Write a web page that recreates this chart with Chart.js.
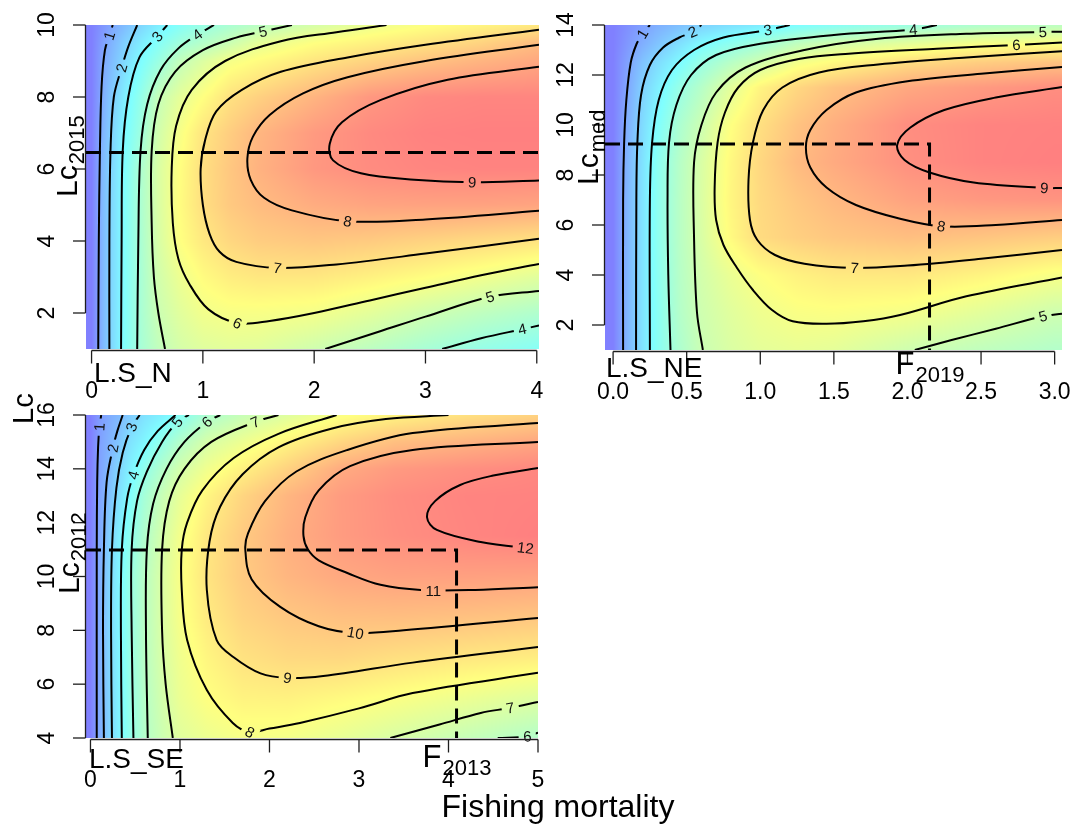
<!DOCTYPE html>
<html>
<head>
<meta charset="utf-8">
<title>Yield per recruit isopleths</title>
<script src="https://cdn.jsdelivr.net/npm/chart.js@4.4.1/dist/chart.umd.min.js"></script>
<style>
  html, body { margin: 0; padding: 0; background: #ffffff; }
  #wrap { position: relative; width: 1074px; height: 825px; overflow: hidden; background: #ffffff; }
  #wrap canvas { position: absolute; left: 0; top: 0; }
</style>
</head>
<body>
<div id="wrap">
  <canvas id="cN" width="1074" height="825"></canvas>
  <canvas id="cNE" width="1074" height="825"></canvas>
  <canvas id="cSE" width="1074" height="825"></canvas>
</div>
<script>
const FONT = '"Liberation Sans", Arial, Helvetica, sans-serif';

// ---------- L.S_N : yield per recruit over fishing mortality (F) and length at first capture (Lc)
const fN  = [0, 0.1, 0.2, 0.3, 0.45, 0.6, 0.8, 1.0, 1.25, 1.5, 2.0, 2.5, 3.0, 3.5, 4.0];
const lcN = [1, 2, 3, 4, 5, 6, 7, 8, 9, 9.5, 10];
const yprN = [
  [0, 1.4, 2.35, 3.25, 4.15, 4.75, 5.25, 5.5, 5.6, 5.55, 5.1, 4.65, 4.15, 3.7, 3.35],
  [0, 1.4, 2.35, 3.2, 4.2, 5.0, 5.55, 5.95, 6.1, 6.1, 6.0, 5.6, 5.1, 4.7, 4.35],
  [0, 1.4, 2.35, 3.2, 4.2, 5.15, 5.85, 6.35, 6.7, 6.85, 6.85, 6.6, 6.3, 5.95, 5.55],
  [0, 1.4, 2.35, 3.2, 4.25, 5.3, 6.25, 6.8, 7.25, 7.5, 7.65, 7.55, 7.35, 7.15, 6.95],
  [0, 1.45, 2.35, 3.2, 4.3, 5.35, 6.35, 7.05, 7.6, 7.9, 8.3, 8.5, 8.55, 8.55, 8.5],
  [0, 1.45, 2.3, 3.15, 4.3, 5.35, 6.3, 7.05, 7.65, 8.15, 8.8, 9.1, 9.25, 9.3, 9.3],
  [0, 1.3, 2.2, 3.0, 3.95, 5.15, 6.1, 6.9, 7.5, 8.05, 8.75, 9.15, 9.35, 9.4, 9.4],
  [0, 1.1, 2.0, 2.75, 3.7, 4.85, 5.65, 6.25, 7.0, 7.4, 8.1, 8.8, 9.15, 9.25, 9.25],
  [0, 0.95, 1.6, 2.25, 3.1, 3.8, 4.8, 5.4, 6.05, 6.35, 6.9, 7.35, 7.75, 8.1, 8.4],
  [0, 0.8, 1.4, 2.0, 2.7, 3.3, 4.0, 4.45, 5.0, 5.65, 6.25, 6.6, 6.95, 7.35, 7.9],
  [0, 0.53, 1.05, 1.5, 2.15, 2.7, 3.3, 3.76, 4.2, 4.57, 5.24, 5.82, 6.2, 6.5, 6.8]
];
const isoN = [
  [1, [[0.06,1],[0.065,4],[0.075,6.5],[0.09,8.3],[0.12,9.3],[0.16,9.7],[0.19,10]]],
  [2, [[0.16,1],[0.16,4],[0.17,6.5],[0.2,8.0],[0.27,8.81],[0.33,9.4],[0.41,10]]],
  [3, [[0.265,1],[0.27,4],[0.28,6.5],[0.33,8],[0.43,9.1],[0.59,9.68],[0.68,10]]],
  [4, [[0.41,1],[0.42,4],[0.44,6.5],[0.5,7.8],[0.62,8.75],[0.78,9.35],[0.95,9.73],[1.1,10]]],
  [5, [[0.66,1],[0.6,2],[0.56,3],[0.54,4.5],[0.54,6.5],[0.6,7.8],[0.75,8.7],[1.0,9.3],[1.3,9.65],[1.54,9.82],[1.8,10]]],
  [6, [[2.65,10],[2.2,9.8],[1.7,9.55],[1.2,9.0],[0.9,8.2],[0.76,7.2],[0.72,6],[0.73,4.5],[0.78,3.5],[0.88,2.8],[1.05,2.1],[1.31,1.72],[1.6,1.78],[2.0,2.0],[2.5,2.35],[3.0,2.7],[3.5,3.05],[4.02,3.36]]],
  [7, [[4.02,9.87],[3.0,9.45],[2.3,9.1],[1.7,8.7],[1.35,8.2],[1.12,7.6],[1.02,6.8],[0.98,6],[1.0,5.0],[1.06,4.2],[1.15,3.7],[1.3,3.42],[1.67,3.25],[2.2,3.35],[3.0,3.65],[4.02,4.06]]],
  [8, [[4.02,9.45],[3.0,9.0],[2.3,8.55],[1.9,8.1],[1.6,7.5],[1.45,6.9],[1.4,6.3],[1.43,5.7],[1.55,5.2],[1.8,4.85],[2.3,4.55],[3.0,4.6],[4.02,4.84]]],
  [9, [[4.02,8.84],[3.2,8.48],[2.6,7.92],[2.25,7.3],[2.14,6.7],[2.17,6.24],[2.42,5.88],[2.9,5.7],[3.42,5.63],[4.02,5.68]]],
  [5, [[2.1,1],[2.6,1.5],[3.0,1.9],[3.58,2.45],[4.02,2.61]]],
  [4, [[3.15,1],[3.5,1.3],[3.87,1.55],[4.02,1.65]]]
];
const labN = [[1,0.16,9.7],[2,0.27,8.81],[3,0.59,9.68],[4,0.95,9.73],[5,1.54,9.82],[6,1.31,1.72],[7,1.67,3.25],[8,2.3,4.55],[9,3.42,5.63],[5,3.58,2.45],[4,3.87,1.55]];
const xTicksN = [0, 1, 2, 3, 4];
const xTickLabN = ['0', '1', '2', '3', '4'];
const yTicksN = [2, 4, 6, 8, 10];
const lcRefN = 6.46;

// ---------- L.S_NE
const fNE  = [0, 0.05, 0.1, 0.2, 0.3, 0.45, 0.6, 0.8, 1.0, 1.25, 1.5, 2.0, 2.5, 3.0];
const lcNE = [1, 2.5, 4, 5.5, 7, 8.5, 10, 11.5, 12.5, 13.25, 14];
const yprNE = [
  [0, 0.75, 1.35, 2.45, 3.35, 4.25, 4.95, 5.35, 5.6, 5.7, 5.6, 5.05, 4.7, 4.4],
  [0, 0.75, 1.35, 2.45, 3.35, 4.4, 5.05, 5.5, 5.85, 6.1, 6.15, 6.0, 5.55, 5.05],
  [0, 0.75, 1.35, 2.45, 3.4, 4.45, 5.15, 5.75, 6.2, 6.55, 6.75, 6.8, 6.5, 6.05],
  [0, 0.75, 1.35, 2.45, 3.45, 4.5, 5.3, 6.35, 7.1, 7.4, 7.6, 7.8, 7.65, 7.45],
  [0, 0.75, 1.35, 2.45, 3.45, 4.5, 5.35, 6.45, 7.15, 7.6, 7.95, 8.5, 8.75, 8.85],
  [0, 0.72, 1.33, 2.42, 3.4, 4.45, 5.3, 6.4, 7.2, 7.9, 8.3, 8.95, 9.25, 9.35],
  [0, 0.6, 1.2, 2.25, 3.1, 4.2, 5.0, 6.2, 7.0, 7.7, 8.2, 9.0, 9.25, 9.3],
  [0, 0.5, 1.0, 2.0, 2.7, 3.7, 4.45, 5.55, 6.5, 7.2, 7.7, 8.35, 8.7, 9.0],
  [0, 0.45, 0.85, 1.65, 2.25, 3.0, 3.75, 4.5, 5.1, 5.95, 6.35, 7.05, 7.45, 7.7],
  [0, 0.3, 0.6, 1.15, 1.65, 2.35, 3.0, 3.5, 4.0, 4.7, 5.15, 5.6, 6.05, 6.15],
  [0, 0.2, 0.4, 0.8, 1.15, 1.55, 2.0, 2.35, 2.65, 3.05, 3.3, 3.8, 4.3, 4.6]
];
const isoNE = [
  [1, [[0.068,1],[0.068,7],[0.075,9.3],[0.09,11],[0.12,12.5],[0.16,13.25],[0.2,13.65],[0.25,14]]],
  [2, [[0.156,1],[0.158,7],[0.165,9.3],[0.19,11.2],[0.25,12.4],[0.34,13.1],[0.45,13.5],[0.54,13.72],[0.6,14]]],
  [3, [[0.25,1],[0.25,7],[0.265,9.3],[0.31,11],[0.4,12.2],[0.55,13.0],[0.75,13.5],[1.05,13.8],[1.2,14]]],
  [4, [[0.39,1],[0.375,4],[0.37,7],[0.38,9.3],[0.43,10.8],[0.53,12],[0.7,12.8],[1.0,13.25],[1.5,13.6],[2.04,13.82],[2.2,14]]],
  [5, [[0.61,1],[0.57,2.5],[0.55,5.5],[0.55,8.5],[0.6,10],[0.7,11.3],[0.9,12.3],[1.3,13.0],[1.8,13.45],[2.4,13.65],[2.92,13.72],[3.05,13.73]]],
  [6, [[3.05,13.3],[2.74,13.2],[2.2,13.05],[1.6,12.85],[1.27,12.65],[1.0,12.2],[0.85,11.5],[0.76,10.5],[0.71,9.3],[0.69,7.5],[0.7,6.2],[0.75,5.2],[0.84,4.3],[0.95,3.4],[1.08,2.6],[1.22,2.15],[1.45,2.05],[1.7,2.15],[1.95,2.4],[2.4,3.15],[3.05,3.9]]],
  [7, [[3.05,12.95],[2.4,12.7],[1.8,12.42],[1.4,12.1],[1.15,11.5],[1.02,10.6],[0.95,9.3],[0.92,7.8],[0.93,6.2],[0.98,5.4],[1.1,4.8],[1.3,4.45],[1.64,4.28],[2.0,4.38],[2.5,4.65],[3.05,5.0]]],
  [8, [[3.05,12.32],[2.5,12.05],[2.0,11.75],[1.65,11.3],[1.45,10.6],[1.34,9.8],[1.31,9.1],[1.34,8.3],[1.45,7.5],[1.65,6.8],[1.95,6.25],[2.23,5.95],[2.6,6.0],[3.05,6.2]]],
  [9, [[3.05,11.52],[2.6,11.1],[2.25,10.6],[2.02,9.9],[1.93,9.2],[1.98,8.6],[2.15,8.1],[2.45,7.7],[2.93,7.48],[3.05,7.48]]],
  [5, [[2.05,1],[2.3,1.4],[2.6,1.85],[2.92,2.35],[3.05,2.45]]]
];
const labNE = [[1,0.2,13.65],[2,0.54,13.72],[3,1.05,13.8],[4,2.04,13.82],[5,2.92,13.72],[6,2.74,13.2],[7,1.64,4.28],[8,2.23,5.95],[9,2.93,7.48],[5,2.92,2.35]];
const xTicksNE = [0, 0.5, 1, 1.5, 2, 2.5, 3];
const xTickLabNE = ['0.0', '0.5', '1.0', '1.5', '2.0', '2.5', '3.0'];
const yTicksNE = [2, 4, 6, 8, 10, 12, 14];
const lcRefNE = 9.24;
const fRefNE = 2.15;

// ---------- L.S_SE
const fSE  = [0, 0.1, 0.2, 0.3, 0.45, 0.6, 0.8, 1.0, 1.3, 1.7, 2.2, 2.8, 3.4, 4.2, 5.0];
const lcSE = [4, 5.5, 7, 8.5, 10, 11.5, 13, 14, 15, 16];
const yprSE = [
  [0, 1.4, 2.55, 3.55, 4.75, 5.75, 6.55, 7.2, 7.6, 7.9, 7.85, 7.45, 6.95, 6.35, 5.75],
  [0, 1.4, 2.6, 3.55, 4.85, 5.8, 6.75, 7.55, 8.15, 8.55, 8.6, 8.35, 8.05, 7.6, 7.15],
  [0, 1.45, 2.65, 3.6, 4.9, 5.9, 6.9, 7.7, 8.45, 9.1, 9.4, 9.45, 9.2, 8.95, 8.75],
  [0, 1.45, 2.65, 3.6, 4.9, 5.9, 7.0, 7.9, 8.8, 9.55, 9.95, 10.2, 10.25, 10.15, 10.0],
  [0, 1.45, 2.65, 3.6, 4.9, 5.9, 7.0, 7.95, 9.0, 9.85, 10.5, 10.95, 11.15, 11.2, 11.15],
  [0, 1.3, 2.45, 3.45, 4.6, 5.65, 6.8, 7.8, 8.9, 9.85, 10.7, 11.35, 11.75, 12.05, 12.25],
  [0, 1.15, 2.0, 3.0, 4.15, 5.3, 6.4, 7.4, 8.45, 9.5, 10.5, 11.35, 11.8, 12.1, 12.15],
  [0, 1.1, 1.85, 2.65, 3.7, 4.65, 5.75, 6.75, 7.7, 8.6, 9.6, 10.85, 11.4, 11.75, 12.0],
  [0, 1.05, 1.6, 2.15, 3.2, 3.8, 4.75, 5.75, 6.85, 7.6, 8.5, 9.45, 10.2, 10.6, 11.0],
  [0, 0.85, 1.35, 1.75, 2.47, 3.13, 3.63, 4.33, 5.57, 6.38, 7.15, 8.04, 8.52, 9.13, 9.6]
];
const isoSE = [
  [1, [[0.07,4],[0.07,11],[0.075,13.5],[0.085,14.8],[0.1,15.55],[0.12,16]]],
  [2, [[0.15,4],[0.14,8],[0.15,11],[0.18,13.5],[0.25,14.77],[0.3,15.4],[0.36,16]]],
  [3, [[0.24,4],[0.23,8],[0.24,11],[0.29,13.3],[0.36,14.6],[0.46,15.55],[0.55,16]]],
  [4, [[0.35,4],[0.34,8],[0.35,11],[0.41,12.9],[0.48,13.77],[0.6,14.7],[0.75,15.4],[0.95,16]]],
  [5, [[0.48,4],[0.46,8],[0.46,11],[0.52,12.8],[0.63,13.9],[0.8,15.0],[0.97,15.74],[1.1,16]]],
  [6, [[0.64,4],[0.62,8],[0.63,11],[0.7,12.7],[0.85,14.0],[1.05,15.0],[1.3,15.74],[1.45,16]]],
  [7, [[0.92,4],[0.84,6],[0.8,8],[0.8,11],[0.88,12.8],[1.05,14],[1.35,15.0],[1.84,15.74],[2.1,16]]],
  [8, [[2.75,16],[2.1,15.3],[1.6,14.4],[1.25,13.2],[1.08,12],[1.02,11],[1.02,9.5],[1.08,7.64],[1.3,5.78],[1.59,4.56],[1.78,4.22],[2.0,4.35],[2.34,4.56],[3.0,5.1],[3.6,5.67],[5.0,6.42]]],
  [9, [[4.0,16],[3.3,15.85],[2.7,15.5],[2.1,14.8],[1.7,13.8],[1.45,12.6],[1.33,11.3],[1.3,9.5],[1.41,7.64],[1.6,7.0],[1.9,6.4],[2.2,6.23],[2.6,6.3],[3.6,6.8],[5.0,7.38]]],
  [10, [[5.0,15.7],[3.6,15.33],[2.87,14.7],[2.3,13.9],[1.95,12.8],[1.76,11.6],[1.73,11.0],[1.8,9.9],[2.12,8.87],[2.55,8.15],[2.96,7.9],[3.5,8.0],[5.0,8.46]]],
  [11, [[5.0,15.0],[3.6,14.7],[2.9,14.1],[2.55,13.2],[2.4,12.2],[2.38,11.5],[2.43,11.0],[2.55,10.6],[2.87,10.13],[3.24,9.69],[3.69,9.5],[4.3,9.5],[5.0,9.6]]],
  [12, [[5.0,14.03],[4.5,13.75],[4.13,13.4],[3.85,12.8],[3.76,12.2],[3.87,11.73],[4.36,11.28],[4.86,11.06],[5.0,11.05]]],
  [7, [[3.35,4.0],[3.9,4.5],[4.36,4.93],[4.69,5.12],[5.0,5.34]]],
  [6, [[4.55,4.0],[4.88,4.06],[5.0,4.2]]]
];
const labSE = [[1,0.1,15.55],[2,0.25,14.77],[3,0.46,15.55],[4,0.48,13.77],[5,0.97,15.74],[6,1.3,15.74],[7,1.84,15.74],[8,1.78,4.22],[9,2.2,6.23],[10,2.96,7.9],[11,3.83,9.45],[12,4.86,11.06],[7,4.69,5.12],[6,4.88,4.06]];
const xTicksSE = [0, 1, 2, 3, 4, 5];
const xTickLabSE = ['0', '1', '2', '3', '4', '5'];
const yTicksSE = [4, 6, 8, 10, 12, 14, 16];
const lcRefSE = 10.98;
const fRefSE = 4.09;

// ---------- panel layout (pixel boxes of the plotting regions) and annotations
const panels = {
  cN:  { box: [86, 25, 539, 349],  xr: [-0.05, 4.02],  yr: [1, 10],  f: fN,  lc: lcN,  z: yprN,  iso: isoN,  lab: labN,
         xt: xTicksN,  xtl: xTickLabN,  yt: yTicksN,  lcRef: lcRefN,  fRef: null,
         name: 'L.S_N',  namePos: [94, 382],  lcSub: '2015', lcPos: [77, 197], fSub: null, fPos: null },
  cNE: { box: [605, 25, 1062, 350], xr: [-0.055, 3.05], yr: [1, 14], f: fNE, lc: lcNE, z: yprNE, iso: isoNE, lab: labNE,
         xt: xTicksNE, xtl: xTickLabNE, yt: yTicksNE, lcRef: lcRefNE, fRef: fRefNE,
         name: 'L.S_NE', namePos: [606, 377],  lcSub: 'med',  lcPos: [598, 185], fSub: '2019', fPos: 374 },
  cSE: { box: [86, 415, 538, 738],  xr: [-0.05, 5.0],   yr: [4, 16], f: fSE, lc: lcSE, z: yprSE, iso: isoSE, lab: labSE,
         xt: xTicksSE, xtl: xTickLabSE, yt: yTicksSE, lcRef: lcRefSE, fRef: fRefSE,
         name: 'L.S_SE', namePos: [89, 768], lcSub: '2012', lcPos: [79, 594], fSub: '2013', fPos: 767 }
};

// blue -> cyan -> yellow -> red, washed half way towards white
const rampStops = [[0, 0, 0, 255], [1/3, 0, 255, 255], [2/3, 255, 255, 0], [1, 255, 0, 0]];
function ramp(t) {
  t = Math.max(0, Math.min(1, t));
  let k = 0;
  while (k < rampStops.length - 2 && t > rampStops[k + 1][0]) k++;
  const a = rampStops[k], b = rampStops[k + 1];
  const u = (t - a[0]) / (b[0] - a[0]);
  const c = [1, 2, 3].map(i => a[i] + (b[i] - a[i]) * u);
  return c.map(v => 255 - (255 - v) * 0.5);
}

function locate(arr, v) {
  if (v <= arr[0]) return [0, 0];
  if (v >= arr[arr.length - 1]) return [arr.length - 2, 1];
  let k = 0;
  while (arr[k + 1] < v) k++;
  return [k, (v - arr[k]) / (arr[k + 1] - arr[k])];
}

function zMax(s) { return Math.max(...s.z.map(r => Math.max(...r))); }

function drawSurface(chart, s) {
  const { left, top, right, bottom } = chart.chartArea;
  const w = Math.round(right - left), h = Math.round(bottom - top);
  const off = document.createElement('canvas');
  off.width = w; off.height = h;
  const octx = off.getContext('2d');
  const img = octx.createImageData(w, h);
  const xs = chart.scales.x, ys = chart.scales.y;
  const zm = zMax(s);
  const cols = [], rows = [];
  for (let i = 0; i < w; i++) cols.push(locate(s.f, xs.getValueForPixel(left + i + 0.5)));
  for (let j = 0; j < h; j++) rows.push(locate(s.lc, ys.getValueForPixel(top + j + 0.5)));
  for (let j = 0; j < h; j++) {
    const [r, b] = rows[j];
    const z0 = s.z[r], z1 = s.z[r + 1];
    for (let i = 0; i < w; i++) {
      const [c, a] = cols[i];
      const v = (1 - b) * ((1 - a) * z0[c] + a * z0[c + 1]) + b * ((1 - a) * z1[c] + a * z1[c + 1]);
      const col = ramp(v / zm);
      const p = (j * w + i) * 4;
      img.data[p] = col[0]; img.data[p + 1] = col[1]; img.data[p + 2] = col[2]; img.data[p + 3] = 255;
    }
  }
  octx.putImageData(img, 0, 0);
  chart.ctx.drawImage(off, left, top);
}

// position and direction of each isopleth label along its line
function labelGeometry(chart, s) {
  const xs = chart.scales.x, ys = chart.scales.y;
  const ctx = chart.ctx;
  ctx.font = '15px ' + FONT;
  return s.lab.map(([lev, fv, lv]) => {
    const px = xs.getPixelForValue(fv), py = ys.getPixelForValue(lv);
    let best = Infinity, ang = 0;
    s.iso.forEach(([l2, pts]) => {
      if (l2 !== lev) return;
      for (let k = 0; k < pts.length - 1; k++) {
        const x0 = xs.getPixelForValue(pts[k][0]), y0 = ys.getPixelForValue(pts[k][1]);
        const x1 = xs.getPixelForValue(pts[k + 1][0]), y1 = ys.getPixelForValue(pts[k + 1][1]);
        const dx = x1 - x0, dy = y1 - y0;
        const L2 = dx * dx + dy * dy || 1;
        const t = Math.max(0, Math.min(1, ((px - x0) * dx + (py - y0) * dy) / L2));
        const qx = x0 + t * dx, qy = y0 + t * dy;
        const d = Math.hypot(px - qx, py - qy);
        if (d < best) { best = d; ang = Math.atan2(dy, dx); }
      }
    });
    if (ang > Math.PI / 2) ang -= Math.PI;
    if (ang < -Math.PI / 2) ang += Math.PI;
    const text = String(lev);
    return { lev, px, py, ang, text, w: ctx.measureText(text).width + 9, h: 14 };
  });
}

function line(ctx, x0, y0, x1, y1) { ctx.beginPath(); ctx.moveTo(x0, y0); ctx.lineTo(x1, y1); ctx.stroke(); }

function subText(ctx, main, sub, x, y, mainSize, subSize, drop, rotated, centered) {
  ctx.save();
  ctx.translate(x, y);
  if (rotated) ctx.rotate(-Math.PI / 2);
  ctx.textAlign = 'left'; ctx.textBaseline = 'alphabetic';
  ctx.font = mainSize + 'px ' + FONT; const w1 = ctx.measureText(main).width;
  ctx.font = subSize + 'px ' + FONT; const w2 = ctx.measureText(sub).width;
  const x0 = centered ? -(w1 + w2) / 2 : 0;
  ctx.font = mainSize + 'px ' + FONT; ctx.fillText(main, x0, 0);
  ctx.font = subSize + 'px ' + FONT; ctx.fillText(sub, x0 + w1 + 1, drop);
  ctx.restore();
}

function drawFrame(chart, s) {
  const ctx = chart.ctx;
  const { left, bottom } = chart.chartArea;
  const xs = chart.scales.x, ys = chart.scales.y;
  ctx.save();
  ctx.strokeStyle = '#1e1e1e'; ctx.lineWidth = 1.3; ctx.fillStyle = '#000';
  // bottom axis
  const ya = bottom + 1.5;
  line(ctx, xs.getPixelForValue(s.xt[0]), ya, xs.getPixelForValue(s.xt[s.xt.length - 1]), ya);
  ctx.font = '23px ' + FONT; ctx.textAlign = 'center'; ctx.textBaseline = 'alphabetic';
  s.xt.forEach((v, i) => {
    const px = xs.getPixelForValue(v);
    line(ctx, px, ya, px, ya + 13);
    ctx.fillText(s.xtl[i], px, bottom + 49);
  });
  // left axis
  const xa = left - 0.5;
  line(ctx, xa, ys.getPixelForValue(s.yt[0]), xa, ys.getPixelForValue(s.yt[s.yt.length - 1]));
  s.yt.forEach(v => {
    const py = ys.getPixelForValue(v);
    line(ctx, xa, py, left - 13, py);
    ctx.save(); ctx.translate(left - 32, py); ctx.rotate(-Math.PI / 2);
    ctx.fillText(String(v), 0, 0);
    ctx.restore();
  });
  // stock name, reference length and reference mortality
  ctx.textAlign = 'left';
  ctx.font = '28px ' + FONT;
  ctx.fillText(s.name, s.namePos[0], s.namePos[1]);
  subText(ctx, 'Lc', s.lcSub, s.lcPos[0], s.lcPos[1], 30, 22, 7, true, false);
  if (s.fRef !== null) subText(ctx, 'F', s.fSub, xs.getPixelForValue(s.fRef), s.fPos, 31, 22, 8, false, true);
  ctx.restore();
}

function drawSharedTitles(ctx) {
  ctx.save();
  ctx.fillStyle = '#000';
  ctx.textBaseline = 'alphabetic';
  ctx.save(); ctx.translate(33, 424); ctx.rotate(-Math.PI / 2);
  ctx.font = '29px ' + FONT; ctx.textAlign = 'left'; ctx.fillText('Lc', 0, 0);
  ctx.restore();
  ctx.font = '32px ' + FONT; ctx.textAlign = 'center';
  ctx.fillText('Fishing mortality', 558, 817);
  ctx.restore();
}

const surfacePlugin = {
  id: 'yprSurface',
  beforeDatasetsDraw(chart) {
    const s = panels[chart.canvas.id];
    drawSurface(chart, s);
    chart.$labels = labelGeometry(chart, s);
  },
  beforeDatasetDraw(chart, args) {
    const ds = chart.data.datasets[args.index];
    if (ds.level === undefined) return;
    const ctx = chart.ctx;
    ctx.save();
    ctx.beginPath();
    ctx.rect(0, 0, chart.width, chart.height);
    chart.$labels.filter(g => g.lev === ds.level).forEach(g => {
      const c = Math.cos(g.ang), sn = Math.sin(g.ang);
      const hw = g.w / 2, hh = g.h / 2;
      const pts = [[-hw, -hh], [hw, -hh], [hw, hh], [-hw, hh]].map(([u, v]) => [g.px + u * c - v * sn, g.py + u * sn + v * c]);
      ctx.moveTo(pts[0][0], pts[0][1]);
      for (let k = 3; k >= 1; k--) ctx.lineTo(pts[k][0], pts[k][1]);
      ctx.closePath();
    });
    ctx.clip('evenodd');
    ds.$clipped = true;
  },
  afterDatasetDraw(chart, args) {
    const ds = chart.data.datasets[args.index];
    if (ds.$clipped) { chart.ctx.restore(); ds.$clipped = false; }
  },
  afterDatasetsDraw(chart) {
    const ctx = chart.ctx;
    ctx.save();
    ctx.font = '15px ' + FONT; ctx.fillStyle = '#111';
    ctx.textAlign = 'center'; ctx.textBaseline = 'middle';
    chart.$labels.forEach(g => {
      ctx.save(); ctx.translate(g.px, g.py); ctx.rotate(g.ang);
      ctx.fillText(g.text, 0, 1);
      ctx.restore();
    });
    ctx.restore();
  },
  afterDraw(chart) {
    const s = panels[chart.canvas.id];
    drawFrame(chart, s);
    if (chart.canvas.id === 'cSE') drawSharedTitles(chart.ctx);
  }
};

function buildChart(id) {
  const s = panels[id];
  const datasets = s.iso.map(([lev, pts]) => ({
    level: lev,
    data: pts.map(p => ({ x: p[0], y: p[1] })),
    showLine: true, borderColor: '#000', borderWidth: 2, pointRadius: 0, tension: 0.35, fill: false
  }));
  const refPts = s.fRef === null
    ? [{ x: s.xr[0], y: s.lcRef }, { x: s.xr[1], y: s.lcRef }]
    : [{ x: s.xr[0], y: s.lcRef }, { x: s.fRef, y: s.lcRef }, { x: s.fRef, y: s.yr[0] }];
  datasets.push({ data: refPts, showLine: true, borderColor: '#000', borderWidth: 3, borderDash: [15, 8], pointRadius: 0, tension: 0, fill: false });
  return new Chart(document.getElementById(id), {
    type: 'scatter',
    data: { datasets },
    options: {
      responsive: false, animation: false, devicePixelRatio: 1, events: [],
      layout: { padding: { left: s.box[0], top: s.box[1], right: 1074 - s.box[2], bottom: 825 - s.box[3] } },
      scales: {
        x: { type: 'linear', min: s.xr[0], max: s.xr[1], display: false },
        y: { type: 'linear', min: s.yr[0], max: s.yr[1], display: false }
      },
      plugins: { legend: { display: false }, tooltip: { enabled: false } }
    },
    plugins: [surfacePlugin]
  });
}

['cN', 'cNE', 'cSE'].forEach(buildChart);
</script>
</body>
</html>
